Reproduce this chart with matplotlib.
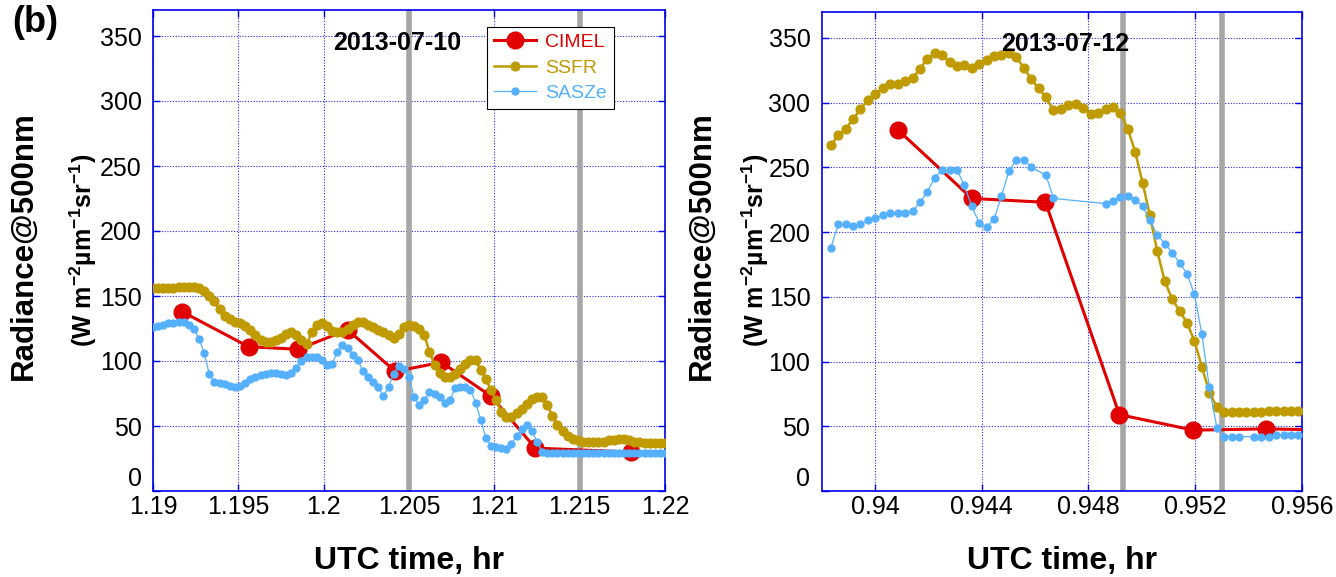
import matplotlib
matplotlib.use("Agg")
import matplotlib.pyplot as plt
from matplotlib.ticker import FormatStrFormatter, FuncFormatter, MultipleLocator

plt.rcParams["font.family"] = ["Liberation Sans", "DejaVu Sans"]
plt.rcParams["mathtext.fontset"] = "custom"
plt.rcParams["mathtext.rm"] = "Liberation Sans"
plt.rcParams["mathtext.bf"] = "Liberation Sans:bold"
plt.rcParams["mathtext.default"] = "bf"

# ---- 2013-07-10 panel
left_time = [
    1.1900, 1.1903, 1.1906, 1.1909, 1.1912, 1.1915, 1.1918, 1.1921, 1.1924, 1.1927,
    1.1930, 1.1933, 1.1936, 1.1939, 1.1942, 1.1945, 1.1948, 1.1951, 1.1954, 1.1957,
    1.1960, 1.1963, 1.1966, 1.1969, 1.1972, 1.1975, 1.1978, 1.1981, 1.1984, 1.1987,
    1.1990, 1.1993, 1.1996, 1.1999, 1.2002, 1.2005, 1.2008, 1.2011, 1.2014, 1.2017,
    1.2020, 1.2023, 1.2026, 1.2029, 1.2032, 1.2035, 1.2038, 1.2041, 1.2044, 1.2047,
    1.2050, 1.2053, 1.2056, 1.2059, 1.2062, 1.2065, 1.2068, 1.2071, 1.2074, 1.2077,
    1.2080, 1.2083, 1.2086, 1.2089, 1.2092, 1.2095, 1.2098, 1.2101, 1.2104, 1.2107,
    1.2110, 1.2113, 1.2116, 1.2119, 1.2122, 1.2125, 1.2128, 1.2131, 1.2134, 1.2137,
    1.2140, 1.2143, 1.2146, 1.2149, 1.2152, 1.2155, 1.2158, 1.2161, 1.2164, 1.2167,
    1.2170, 1.2173, 1.2176, 1.2179, 1.2182, 1.2185, 1.2188, 1.2191, 1.2194, 1.2197,
    1.2200,
]
left_ssfr = [
    156, 156, 156, 156, 156, 157, 157, 157, 157, 156,
    154, 150, 146, 140, 135, 132, 130, 129, 127, 124,
    120, 116, 115, 115, 116, 118, 121, 122, 120, 116,
    113, 122, 128, 129, 127, 123, 122, 122, 125, 128,
    130, 130, 128, 126, 124, 122, 120, 118, 121, 126,
    128, 127, 125, 120, 107, 97, 91, 88, 88, 90,
    94, 98, 101, 101, 93, 86, 78, 70, 61, 57,
    57, 60, 63, 67, 71, 72, 72, 66, 58, 51,
    46, 42, 40, 39, 38, 38, 38, 38, 38, 39,
    39, 40, 40, 39, 38, 38, 37, 37, 37, 37,
    37,
]
left_sasze = [
    126, 127, 128, 129, 129, 130, 130, 128, 125, 117,
    106, 90, 84, 83, 82, 81, 80, 81, 83, 86,
    88, 89, 90, 91, 91, 90, 89, 91, 95, 100,
    103, 103, 103, 101, 97, 98, 107, 112, 110, 105,
    101, 92, 88, 84, 80, 73, 80, 90, 96, 94,
    88, 72, 66, 70, 76, 75, 72, 68, 70, 79,
    80, 80, 78, 68, 55, 41, 35, 34, 33, 32,
    36, 42, 48, 51, 46, 38, 30, 29, 29, 29,
    29, 29, 29, 29, 29, 29, 29, 29, 29, 29,
    29, 29, 29, 29, 29, 29, 29, 29, 29, 29,
    29,
]
left_cimel_time = [1.1917, 1.1956, 1.1985, 1.2014, 1.2042, 1.2069, 1.2098, 1.2124, 1.2180, 1.2236]
left_cimel = [138, 111, 109, 124, 92, 99, 73, 33, 30, 30]
left_marks = [1.205, 1.215]

# ---- 2013-07-12 panel
right_time = [
    0.93835, 0.93863, 0.93891, 0.93918, 0.93946, 0.93974, 0.94002, 0.94030, 0.94057, 0.94085,
    0.94113, 0.94141, 0.94169, 0.94196, 0.94224, 0.94252, 0.94280, 0.94308, 0.94335, 0.94363,
    0.94391, 0.94419, 0.94447, 0.94474, 0.94502, 0.94530, 0.94558, 0.94586, 0.94613, 0.94641,
    0.94669, 0.94697, 0.94725, 0.94752, 0.94780, 0.94808, 0.94836, 0.94864, 0.94891, 0.94919,
    0.94947, 0.94975, 0.95003, 0.95030, 0.95058, 0.95086, 0.95114, 0.95142, 0.95169, 0.95197,
    0.95225, 0.95253, 0.95281, 0.95308, 0.95336, 0.95364, 0.95392, 0.95420, 0.95447, 0.95475,
    0.95503, 0.95531, 0.95559, 0.95586,
]
right_ssfr = [
    267, 275, 280, 287, 295, 302, 307, 311, 314, 314,
    317, 319, 326, 334, 338, 337, 331, 328, 329, 327,
    330, 333, 336, 337, 338, 335, 327, 318, 311, 304,
    294, 295, 298, 299, 296, 291, 292, 295, 297, 292,
    280, 262, 238, 213, 185, 162, 148, 139, 130, 116,
    96, 76, 65, 61, 61, 61, 61, 61, 61, 62,
    62, 62, 62, 62,
]
right_sasze_time = [
    0.93835, 0.93863, 0.93891, 0.93918, 0.93946, 0.93974, 0.94002, 0.94030, 0.94057, 0.94085,
    0.94113, 0.94141, 0.94169, 0.94196, 0.94224, 0.94252, 0.94280, 0.94308, 0.94335, 0.94363,
    0.94391, 0.94419, 0.94447, 0.94474, 0.94502, 0.94530, 0.94558, 0.94586,
    0.94641, 0.94669,
    0.94864, 0.94891, 0.94919, 0.94947, 0.94975, 0.95003, 0.95030, 0.95058, 0.95086, 0.95114,
    0.95142, 0.95169, 0.95197, 0.95225, 0.95253, 0.95281, 0.95308, 0.95336, 0.95364,
    0.95420, 0.95447, 0.95475, 0.95503, 0.95531, 0.95559, 0.95586,
]
right_sasze = [
    188, 206, 206, 205, 206, 209, 211, 213, 215, 215,
    215, 216, 223, 231, 242, 248, 248, 248, 236, 220,
    207, 204, 210, 228, 247, 256, 256, 250,
    244, 226,
    222, 224, 227, 228, 225, 220, 209, 198, 191, 184,
    176, 168, 152, 121, 80, 49, 42, 42, 42,
    42, 42, 42, 43, 43, 43, 43,
]
right_cimel_time = [0.94086, 0.94363, 0.94639, 0.94916, 0.95193, 0.95466, 0.95740]
right_cimel = [279, 226, 223, 59, 47, 48, 47]
right_marks = [0.94931, 0.95300]

RED = "#e00000"
OLIVE = "#bf9a00"
SKY = "#55b0ff"
AXBLUE = "#0000e6"


def style_axis(ax, xlim, xstep):
    ax.set_xlim(*xlim)
    ax.set_ylim(0, 370)
    ax.xaxis.set_major_locator(MultipleLocator(xstep))
    ax.xaxis.set_major_formatter(FormatStrFormatter("%g"))
    ax.yaxis.set_major_locator(MultipleLocator(50))
    # "0" is drawn separately, lifted clear of the first x label
    ax.yaxis.set_major_formatter(FuncFormatter(lambda v, p: "" if v == 0 else f"{v:g}"))
    ax.annotate("0", xy=(0, 0), xycoords="axes fraction", xytext=(-8, 0),
                textcoords="offset points", ha="right", va="bottom", fontsize=18)
    ax.grid(True, color="#2a2aff", linestyle=(0, (1, 1.5)), linewidth=0.8)
    ax.set_axisbelow(True)
    for sp in ax.spines.values():
        sp.set_color(AXBLUE)
        sp.set_linewidth(1.2)
    ax.tick_params(direction="in", top=True, right=True, length=5,
                   color=AXBLUE, width=1.0, labelsize=18, labelcolor="black")
    ax.tick_params(axis="y", pad=8)
    ax.tick_params(axis="x", pad=3)


def draw(ax, cimel_t, cimel_v, ssfr_t, ssfr_v, sasze_t, sasze_v, marks):
    for m in marks:
        ax.axvline(m, color="#a6a6a6", linewidth=4, zorder=1)
    ax.plot(cimel_t, cimel_v, "-o", color=RED, lw=2.2, ms=12, zorder=3, label="CIMEL")
    ax.plot(ssfr_t, ssfr_v, "-o", color=OLIVE, lw=1.8, ms=6.3, zorder=4, label="SSFR")
    ax.plot(sasze_t, sasze_v, "-o", color=SKY, lw=0.9, ms=5, zorder=5, label="SASZe")


W, H = 1336, 577
fig = plt.figure(figsize=(W / 100, H / 100), dpi=100)
ax1 = fig.add_axes([153 / W, 86 / H, 512 / W, 481 / H])
ax2 = fig.add_axes([821.5 / W, 86 / H, 480.5 / W, 479 / H])

draw(ax1, left_cimel_time, left_cimel, left_time, left_ssfr, left_time, left_sasze, left_marks)
style_axis(ax1, (1.19, 1.22), 0.005)
draw(ax2, right_cimel_time, right_cimel, right_time, right_ssfr,
     right_sasze_time, right_sasze, right_marks)
style_axis(ax2, (0.938, 0.956), 0.004)

ax1.text(1.2043, 345, "2013-07-10", ha="center", va="center",
         fontsize=18, fontweight="bold", zorder=6)
ax2.text(0.94714, 345, "2013-07-12", ha="center", va="center",
         fontsize=18, fontweight="bold", zorder=6)

leg = ax1.legend(loc="upper left", bbox_to_anchor=(0.652, 0.965), borderaxespad=0,
                 fontsize=14, handlelength=2.2, handletextpad=0.45,
                 labelspacing=0.4, borderpad=0.35, fancybox=False, framealpha=1)
leg.get_frame().set_edgecolor("black")
leg.get_frame().set_linewidth(0.8)
for txt, c in zip(leg.get_texts(), [RED, OLIVE, SKY]):
    txt.set_color(c)

# y labels (two lines of different size) and x labels
ylab2 = r"(W m$^{-2}$µm$^{-1}$sr$^{-1}$)"
for x1, x2 in [(24, 83), (702, 755)]:
    fig.text(x1 / W, 1 - 246 / H, "Radiance@500nm", rotation=90, ha="center",
             va="center", fontsize=22.5, fontweight="bold")
    fig.text(x2 / W, 1 - 250 / H, ylab2, rotation=90, ha="center",
             va="center", fontsize=18, fontweight="bold")
for xc in [409, 1062]:
    fig.text(xc / W, 1 - 561 / H, "UTC time, hr", ha="center", va="center",
             fontsize=23, fontweight="bold")

fig.text(12 / W, 1 - 22 / H, "(b)", ha="left", va="center", fontsize=26, fontweight="bold")

fig.savefig("out.png", dpi=100)
